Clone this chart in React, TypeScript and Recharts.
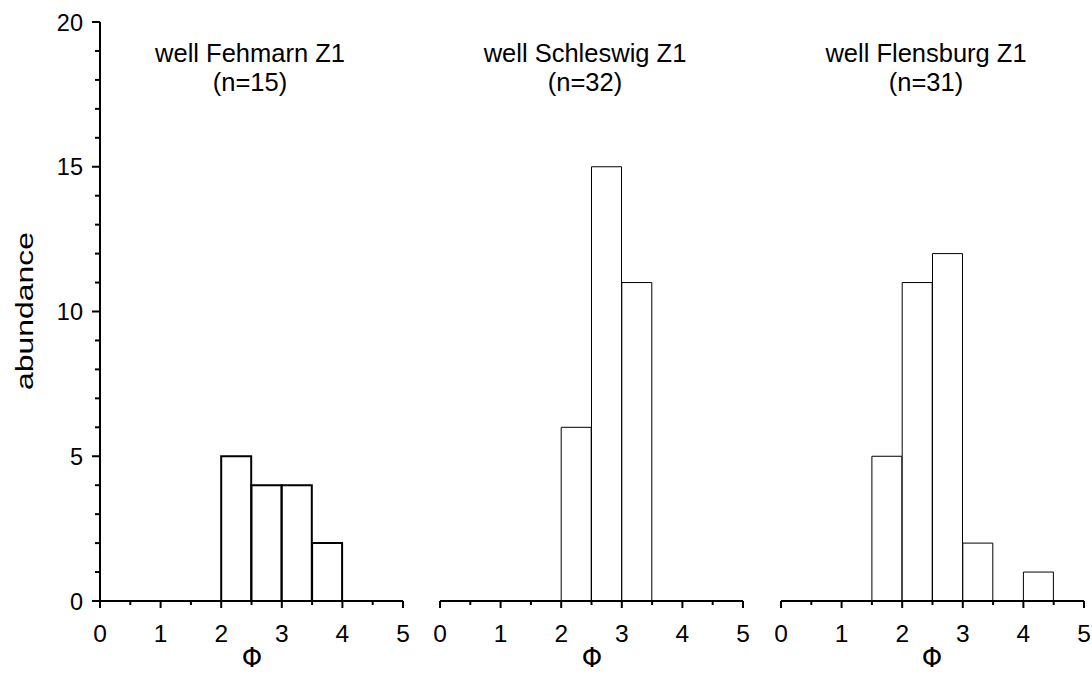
import { BarChart, Bar, XAxis, YAxis } from 'recharts'

const BINS = ['0-0.5', '0.5-1', '1-1.5', '1.5-2', '2-2.5', '2.5-3', '3-3.5', '3.5-4', '4-4.5', '4.5-5']
const BIN_START = [0, 0.5, 1, 1.5, 2, 2.5, 3, 3.5, 4, 4.5]
const FEHMARN = [0, 0, 0, 0, 5, 4, 4, 2, 0, 0]
const SCHLESWIG = [0, 0, 0, 0, 6, 15, 11, 0, 0, 0]
const FLENSBURG = [0, 0, 0, 5, 11, 12, 2, 0, 1, 0]
const PHI_TICKS = [0, 0.5, 1, 1.5, 2, 2.5, 3, 3.5, 4, 4.5, 5]
const Y_TICKS = [0, 1, 2, 3, 4, 5, 6, 7, 8, 9, 10, 11, 12, 13, 14, 15, 16, 17, 18, 19, 20]
const WELLS = ['well Fehmarn Z1', 'well Schleswig Z1', 'well Flensburg Z1']
const COUNTS = ['(n=15)', '(n=32)', '(n=31)']

const FONT = '"Liberation Sans", Arial, sans-serif'

const toRows = (vals: number[]) => BINS.map((bin, i) => ({ bin, lo: BIN_START[i], count: vals[i] }))

function PhiTick(props: any) {
  const { x, y, payload } = props
  const major = Number.isInteger(payload.value)
  return (
    <g>
      <line x1={x} x2={x} y1={y} y2={y + (major ? 7 : 4)} stroke="#000" strokeWidth={2} />
      {major && (
        <text x={x} y={y + 41} textAnchor="middle" fontSize={24.5} fontFamily={FONT} fill="#000">
          {payload.value}
        </text>
      )}
    </g>
  )
}

function CountTick(props: any) {
  const { x, y, payload } = props
  const major = payload.value % 5 === 0
  return (
    <g>
      <line x1={x - (major ? 8 : 5)} x2={x} y1={y} y2={y} stroke="#000" strokeWidth={2} />
      {major && (
        <text x={x - 17} y={y + 8.5} textAnchor="end" fontSize={23.5} fontFamily={FONT} fill="#000">
          {payload.value}
        </text>
      )}
    </g>
  )
}

type PanelProps = {
  data: number[]
  left: number
  width: number
  marginLeft: number
  showY?: boolean
  barStroke: number
}

function Panel({ data, left, width, marginLeft, showY, barStroke }: PanelProps) {
  return (
    <div style={{ position: 'absolute', left, top: 0 }}>
      <BarChart
        width={width}
        height={674}
        data={toRows(data)}
        margin={{ top: 22, right: width - marginLeft - 303 - (showY ? 40 : 0), bottom: 0, left: marginLeft }}
        barCategoryGap={0}
        barGap={0}
      >
        <XAxis xAxisId="bins" dataKey="bin" hide height={0} />
        <XAxis
          xAxisId="phi"
          dataKey="lo"
          type="number"
          domain={[0, 5]}
          ticks={PHI_TICKS}
          interval={0}
          allowDataOverflow
          height={73}
          tickSize={0}
          tickMargin={0}
          tickLine={false}
          tick={<PhiTick />}
          axisLine={{ stroke: '#000', strokeWidth: 2 }}
        />
        {showY ? (
          <YAxis
            domain={[0, 20]}
            ticks={Y_TICKS}
            interval={0}
            width={40}
            tickSize={0}
            tickMargin={0}
            tickLine={false}
            tick={<CountTick />}
            axisLine={{ stroke: '#000', strokeWidth: 2 }}
          />
        ) : (
          <YAxis domain={[0, 20]} hide />
        )}
        <Bar
          xAxisId="bins"
          dataKey="count"
          fill="#fff"
          stroke="#000"
          strokeWidth={barStroke}
          isAnimationActive={false}
        />
      </BarChart>
    </div>
  )
}

const TITLE_X = [250, 585, 926]
const PHI_X = [252, 592, 932]

export default function App() {
  return (
    <div style={{ position: 'absolute', left: 0, top: 0, width: 1092, height: 674, background: '#fff', fontFamily: FONT }}>
      <Panel data={FEHMARN} left={0} width={420} marginLeft={60} showY barStroke={2} />
      <Panel data={SCHLESWIG} left={400} width={360} marginLeft={40} barStroke={1} />
      <Panel data={FLENSBURG} left={740} width={352} marginLeft={41} barStroke={1} />
      <svg width={1092} height={674} style={{ position: 'absolute', left: 0, top: 0, pointerEvents: 'none' }}>
        {WELLS.map((w, i) => (
          <g key={w} fontFamily={FONT} fontSize={25.5} fill="#000" textAnchor="middle">
            <text x={TITLE_X[i]} y={62}>{w}</text>
            <text x={TITLE_X[i]} y={91}>{COUNTS[i]}</text>
            <text x={PHI_X[i]} y={667} fontSize={26} fontFamily='"DejaVu Sans", sans-serif'>Φ</text>
          </g>
        ))}
        <text
          transform="translate(33,311) rotate(-90) scale(1.33,1)"
          textAnchor="middle"
          fontFamily={FONT}
          fontSize={24}
          fill="#000"
        >
          abundance
        </text>
      </svg>
    </div>
  )
}
